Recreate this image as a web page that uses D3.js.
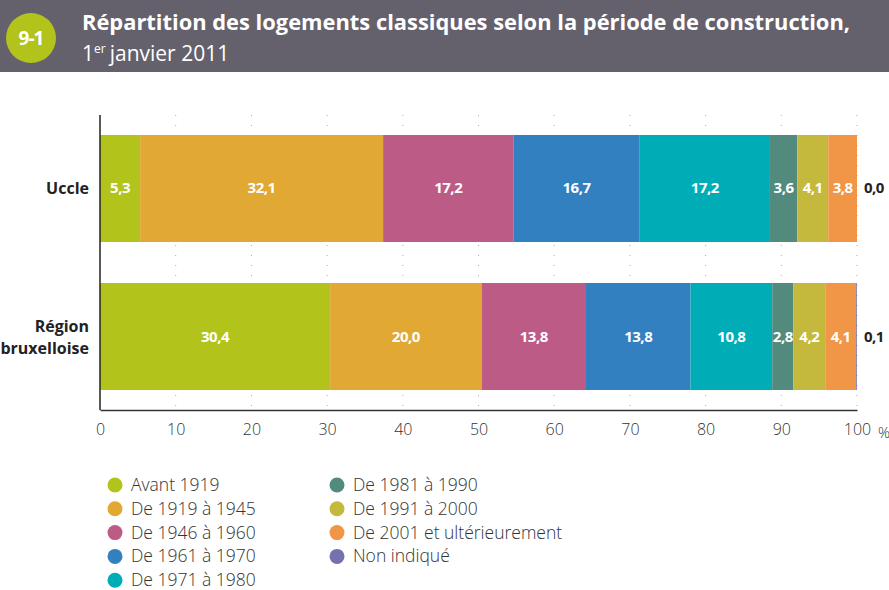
<!DOCTYPE html>
<html>
<head>
<meta charset="utf-8">
<script src="https://cdn.jsdelivr.net/npm/d3@7"></script>
<style>
  body { margin: 0; background: #fff; }
  svg { display: block; font-family: "Open Sans", "Noto Sans", sans-serif; }
</style>
</head>
<body>
<div id="chart"></div>
<script>
// data
var regions = ["Uccle", "Région bruxelloise"];
var periods = ["Avant 1919", "De 1919 à 1945", "De 1946 à 1960", "De 1961 à 1970", "De 1971 à 1980",
  "De 1981 à 1990", "De 1991 à 2000", "De 2001 et ultérieurement", "Non indiqué"];
var ucclePct = [5.3, 32.1, 17.2, 16.7, 17.2, 3.6, 4.1, 3.8, 0.0];
var regionPct = [30.4, 20.0, 13.8, 13.8, 10.8, 2.8, 4.2, 4.1, 0.1];
var xTicks = [0, 10, 20, 30, 40, 50, 60, 70, 80, 90, 100];
var colors = ["#b2c31c", "#e1a834", "#bd5b87", "#3380c0", "#00adb7", "#528b7d", "#c4b93d", "#f19547", "#7570b0"];

var width = 889, height = 590;

var svg = d3.select("#chart").append("svg")
  .attr("width", width)
  .attr("height", height);

// header band
svg.append("rect")
  .attr("x", 0).attr("y", 0)
  .attr("width", width).attr("height", 72)
  .attr("fill", "#64616d");

svg.append("circle")
  .attr("cx", 31).attr("cy", 38).attr("r", 25)
  .attr("fill", "#b2c31c");

svg.append("text")
  .attr("x", 31).attr("y", 45)
  .attr("text-anchor", "middle")
  .attr("fill", "#fff")
  .attr("font-weight", "bold")
  .attr("font-size", 19)
  .attr("letter-spacing", -1)
  .text("9-1");

svg.append("text")
  .attr("x", 82).attr("y", 30)
  .attr("fill", "#fff")
  .attr("font-weight", "bold")
  .attr("font-size", 22)
  .attr("textLength", 768)
  .attr("lengthAdjust", "spacingAndGlyphs")
  .text("Répartition des logements classiques selon la période de construction,");

var sub = svg.append("text")
  .attr("x", 82).attr("y", 61)
  .attr("fill", "#fff")
  .attr("font-size", 21);
sub.append("tspan").text("1");
sub.append("tspan").attr("font-size", 12).attr("dy", -8).text("er");
sub.append("tspan").attr("dy", 8).attr("dx", 4).text("janvier 2011");

// scales
var x = d3.scaleLinear().domain([0, 100]).range([100, 857]);
var y = d3.scaleBand().domain(regions).range([115, 410]).paddingInner(0.277).paddingOuter(0.135);

var rows = regions.map(function (r, i) {
  var vals = i === 0 ? ucclePct : regionPct;
  var acc = 0;
  return vals.map(function (v, j) {
    var d = { region: r, period: periods[j], value: v, x0: acc, x1: acc + v, color: colors[j] };
    acc += v;
    return d;
  });
});

// dotted gridlines
svg.append("g")
  .selectAll("line")
  .data(xTicks.slice(1))
  .enter().append("line")
  .attr("x1", function (d) { return x(d); })
  .attr("x2", function (d) { return x(d); })
  .attr("y1", 115).attr("y2", 410)
  .attr("stroke", "#aaa")
  .attr("stroke-width", 1)
  .attr("stroke-dasharray", "1,9");

// bars
var bars = svg.append("g");
rows.forEach(function (segs) {
  bars.selectAll(null)
    .data(segs)
    .enter().append("rect")
    .attr("x", function (d) { return x(d.x0); })
    .attr("y", function (d) { return y(d.region); })
    .attr("width", function (d) { return Math.max(0, x(d.x1) - x(d.x0)); })
    .attr("height", y.bandwidth())
    .attr("fill", function (d) { return d.color; });

  // labels inside
  bars.selectAll(null)
    .data(segs.slice(0, 8))
    .enter().append("text")
    .attr("x", function (d) { return (x(d.x0) + x(d.x1)) / 2; })
    .attr("y", function (d) { return y(d.region) + y.bandwidth() / 2 + 5; })
    .attr("text-anchor", "middle")
    .attr("fill", "#fff")
    .attr("font-weight", "bold")
    .attr("font-size", 15)
    .attr("letter-spacing", -0.5)
    .text(function (d) { return d3.format(".1f")(d.value).replace(".", ","); });

  // "Non indiqué" label outside
  var last = segs[8];
  bars.append("text")
    .attr("x", 864)
    .attr("y", y(last.region) + y.bandwidth() / 2 + 5)
    .attr("fill", "#222")
    .attr("font-weight", "bold")
    .attr("font-size", 15)
    .attr("letter-spacing", -0.5)
    .text(d3.format(".1f")(last.value).replace(".", ","));
});

// y labels
var yLabels = svg.append("g");
yLabels.append("text")
  .attr("x", 89).attr("y", y("Uccle") + y.bandwidth() / 2 + 6)
  .attr("text-anchor", "end")
  .attr("font-weight", "bold").attr("font-size", 16).attr("fill", "#222")
  .text("Uccle");
var rb = yLabels.append("text")
  .attr("x", 89).attr("y", y("Région bruxelloise") + y.bandwidth() / 2 - 5)
  .attr("text-anchor", "end")
  .attr("font-weight", "bold").attr("font-size", 16).attr("fill", "#222");
rb.append("tspan").attr("x", 89).text("Région");
rb.append("tspan").attr("x", 89).attr("dy", 22).text("bruxelloise");

// axes
var xAxis = d3.axisBottom(x).tickValues(xTicks).tickSize(0).tickPadding(14);
var gx = svg.append("g")
  .attr("transform", "translate(0,410)")
  .call(xAxis);
gx.select(".domain").attr("stroke", "#333").attr("stroke-width", 1.5);
gx.selectAll("text").attr("font-size", 16).attr("fill", "#333")
  .attr("font-weight", 300)
  .attr("font-family", "'Open Sans', sans-serif");

svg.append("text")
  .attr("x", 878).attr("y", 438)
  .attr("font-size", 15).attr("fill", "#333")
  .attr("font-weight", 300)
  .text("%");

svg.append("line")
  .attr("x1", 100).attr("x2", 100)
  .attr("y1", 115).attr("y2", 410)
  .attr("stroke", "#222").attr("stroke-width", 1.5);

// legend
var legend = svg.append("g");
var item = legend.selectAll("g")
  .data(periods)
  .enter().append("g")
  .attr("transform", function (d, i) {
    var col = i < 5 ? 0 : 1;
    var row = i < 5 ? i : i - 5;
    return "translate(" + (col === 0 ? 115 : 337) + "," + (485 + row * 23.8) + ")";
  });
item.append("circle")
  .attr("r", 7.5)
  .attr("fill", function (d, i) { return colors[i]; });
item.append("text")
  .attr("x", 16).attr("y", 6)
  .attr("font-size", 17.5).attr("fill", "#333")
  .attr("font-weight", 300)
  .text(function (d) { return d; });
</script>
</body>
</html>
